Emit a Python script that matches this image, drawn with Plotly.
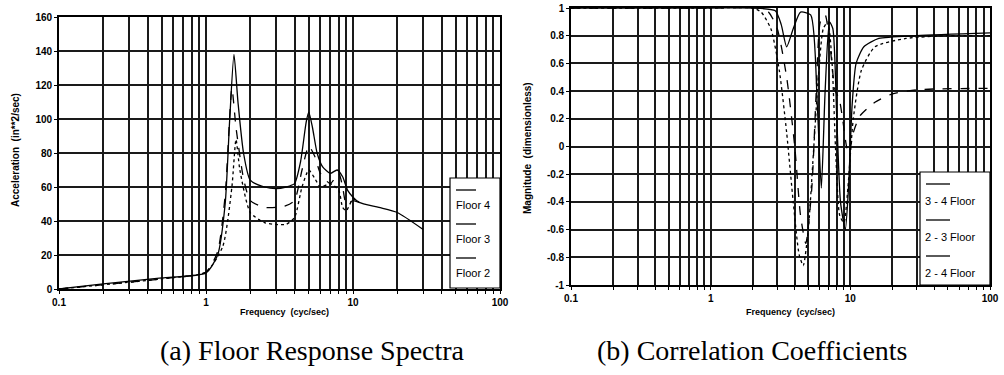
import plotly.graph_objects as go

# ---------------- data ----------------
# (a) Floor response spectra: frequency (cyc/sec) vs acceleration (in**2/sec)
f4 = [0.1, 0.2, 0.5, 1.0, 1.2, 1.35, 1.45, 1.55, 1.65, 1.8, 2.0, 2.5, 3.0, 3.5, 4.0, 4.4, 4.8, 5.0, 5.3, 5.7, 6.2, 7.0, 7.8, 8.5, 9.2, 10, 11, 15, 20, 30]
floor4 = [0, 3, 6.5, 9.5, 20, 50, 100, 138, 110, 80, 64, 60, 59, 60, 62, 75, 98, 104, 95, 80, 72, 68, 70, 66, 58, 54, 51, 48, 45, 35]

f3 = [0.1, 0.5, 1.0, 1.2, 1.35, 1.5, 1.6, 1.8, 2.0, 2.5, 3.0, 3.5, 4.0, 4.5, 5.0, 5.5, 6.0, 7.0, 8.0, 8.5, 9.0, 10, 11]
floor3 = [0, 6, 10, 22, 55, 118, 95, 65, 52, 48, 48, 49, 52, 70, 84, 78, 68, 62, 68, 60, 50, 52, 51]

f2 = [0.1, 0.5, 1.0, 1.3, 1.5, 1.6, 1.7, 2.0, 2.5, 3.0, 3.5, 4.0, 4.5, 5.0, 5.5, 6.0, 7.0, 8.0, 8.5, 9.0, 10, 11]
floor2 = [0, 6, 10, 25, 60, 88, 70, 45, 39, 38, 38, 42, 60, 70, 65, 60, 62, 58, 48, 46, 53, 51]

# (b) Correlation coefficients: frequency (cyc/sec) vs magnitude
fc34 = [0.1, 1.0, 2.0, 2.9, 3.2, 3.5, 3.9, 4.4, 5.2, 5.8, 6.2, 6.6, 7.1, 7.5, 8.0, 8.5, 9.2, 9.7, 10.3, 11, 12.5, 16, 30, 100]
c34 = [1, 1, 1, 0.98, 0.88, 0.72, 0.85, 0.97, 0.95, 0.3, -0.3, 0.4, 0.9, 0.85, 0.2, -0.4, -0.6, -0.3, 0.3, 0.6, 0.72, 0.78, 0.8, 0.82]

fc23 = [0.1, 1.0, 2.2, 2.6, 3.0, 3.5, 4.0, 4.4, 4.8, 5.3, 5.7, 6.1, 6.6, 7.2, 7.8, 8.3, 8.8, 9.4, 9.8, 10.5, 11.7, 15, 20, 30, 100]
c23 = [1, 1, 1, 0.97, 0.85, 0.5, 0.0, -0.5, -0.7, -0.3, 0.4, 0.9, 0.95, 0.7, 0.4, 0.35, 0.2, 0.0, -0.05, 0.1, 0.22, 0.32, 0.38, 0.41, 0.42]

fc24 = [0.1, 1.0, 2.0, 2.3, 2.7, 3.1, 3.5, 3.9, 4.3, 4.6, 5.0, 5.4, 5.9, 6.4, 6.9, 7.4, 7.9, 8.4, 9.0, 9.6, 10.5, 12, 15, 25, 50, 100]
c24 = [1, 1, 1, 0.97, 0.85, 0.55, 0.1, -0.4, -0.78, -0.86, -0.6, -0.1, 0.5, 0.85, 0.9, 0.6, -0.1, -0.5, -0.55, -0.3, 0.2, 0.55, 0.72, 0.78, 0.8, 0.8]

legend_left = ["Floor 4", "Floor 3", "Floor 2"]
legend_right = ["3 - 4 Floor", "2 - 3 Floor", "2 - 4 Floor"]
captions = ["(a) Floor Response Spectra", "(b) Correlation Coefficients"]
yticks_left = [0, 20, 40, 60, 80, 100, 120, 140, 160]
yticks_right = [-1, -0.8, -0.6, -0.4, -0.2, 0, 0.2, 0.4, 0.6, 0.8, 1]
ytext_right = ["-1", "-0.8", "-0.6", "-0.4", "-0.2", "0", "0.2", "0.4", "0.6", "0.8", "1"]

# log grid positions 0.1..100 with labels only at decades
xgrid = []
xgrid_text = []
for dec in [0.1, 1, 10]:
    for m in range(1, 10):
        xgrid.append(round(dec * m, 4))
        xgrid_text.append(("%g" % dec) if m == 1 else "")
xgrid.append(100)
xgrid_text.append("100")

# ---------------- layout helpers (pixels -> paper) ----------------
W, H = 1004, 375
def fx(p):
    return p / W
def fy(p):
    return 1 - p / H

TICKFONT = dict(family="Liberation Sans", size=10, color="black", weight="bold")

fig = go.Figure()
styles = ["solid", "dash", "dot"]
for xs, ys, name, st in [(f4, floor4, "Floor 4", "solid"), (f3, floor3, "Floor 3", "dash"), (f2, floor2, "Floor 2", "dot")]:
    fig.add_trace(go.Scatter(x=xs, y=ys, name=name, mode="lines",
                             line=dict(color="black", width=1.3, dash=st, shape="spline", smoothing=0.6),
                             xaxis="x", yaxis="y", showlegend=False))
for xs, ys, name, st in [(fc34, c34, "3 - 4 Floor", "solid"), (fc23, c23, "2 - 3 Floor", "dash"), (fc24, c24, "2 - 4 Floor", "dot")]:
    fig.add_trace(go.Scatter(x=xs, y=ys, name=name, mode="lines",
                             line=dict(color="black", width=1.3, dash=st, shape="spline", smoothing=0.6),
                             xaxis="x2", yaxis="y2", showlegend=False))

axis_common = dict(showline=True, mirror=True, linecolor="black", linewidth=1.6,
                   showgrid=True, gridcolor="#1a1a1a", gridwidth=1.5, zeroline=False,
                   ticks="outside", ticklen=3, tickcolor="black", tickfont=TICKFONT,
                   automargin=False)

fig.update_layout(
    width=W, height=H,
    margin=dict(l=0, r=0, t=0, b=0),
    paper_bgcolor="white", plot_bgcolor="white",
    showlegend=False,
    xaxis=dict(type="log", range=[-1, 2], domain=[fx(59), fx(500)], anchor="y",
               tickmode="array", tickvals=xgrid, ticktext=xgrid_text, **axis_common),
    yaxis=dict(range=[0, 160], domain=[fy(289), fy(17)], anchor="x",
               tickmode="array", tickvals=yticks_left, **axis_common),
    xaxis2=dict(type="log", range=[-1, 2], domain=[fx(571), fx(990)], anchor="y2",
                tickmode="array", tickvals=xgrid, ticktext=xgrid_text, **axis_common),
    yaxis2=dict(range=[-1, 1], domain=[fy(285), fy(8)], anchor="x2",
                tickmode="array", tickvals=yticks_right, ticktext=ytext_right, **axis_common),
)

ann = []
shapes = []
small = dict(family="Liberation Sans", size=9, color="black", weight="bold")
ysmall = dict(family="Liberation Sans", size=10, color="black", weight="bold")
# axis titles
ann.append(dict(text="Frequency  (cyc/sec)", x=fx(284), y=fy(312), xref="paper", yref="paper",
                xanchor="center", yanchor="middle", showarrow=False, font=small))
ann.append(dict(text="Frequency  (cyc/sec)", x=fx(790), y=fy(312), xref="paper", yref="paper",
                xanchor="center", yanchor="middle", showarrow=False, font=small))
ann.append(dict(text="Acceleration  (in**2/sec)", x=fx(15), y=fy(150), xref="paper", yref="paper",
                xanchor="center", yanchor="middle", showarrow=False, textangle=-90, font=ysmall))
ann.append(dict(text="Magnitude  (dimensionless)", x=fx(527), y=fy(148), xref="paper", yref="paper",
                xanchor="center", yanchor="middle", showarrow=False, textangle=-90, font=ysmall))
# captions
capfont = dict(family="Liberation Serif", size=28, color="black")
ann.append(dict(text=captions[0], x=fx(312), y=fy(350), xref="paper", yref="paper",
                xanchor="center", yanchor="middle", showarrow=False, font=capfont))
ann.append(dict(text=captions[1], x=fx(752), y=fy(350), xref="paper", yref="paper",
                xanchor="center", yanchor="middle", showarrow=False, font=capfont))

# manual legends (sample line above label, as in the reference)
legfont = dict(family="Liberation Sans", size=11, color="black")
shapes.append(dict(type="rect", xref="paper", yref="paper", x0=fx(450), x1=fx(500), y0=fy(288), y1=fy(178),
                   fillcolor="white", line=dict(color="black", width=1.2), layer="above"))
for i, (name, st) in enumerate(zip(legend_left, styles)):
    ly = 190 + 34 * i
    shapes.append(dict(type="line", xref="paper", yref="paper", x0=fx(456), x1=fx(476), y0=fy(ly), y1=fy(ly),
                       line=dict(color="black", width=1.3), layer="above"))
    ann.append(dict(text=name, x=fx(454), y=fy(ly + 15), xref="paper", yref="paper", xanchor="left",
                    yanchor="middle", showarrow=False, font=legfont))

shapes.append(dict(type="rect", xref="paper", yref="paper", x0=fx(920), x1=fx(990), y0=fy(285), y1=fy(172),
                   fillcolor="white", line=dict(color="black", width=1.2), layer="above"))
for i, (name, st) in enumerate(zip(legend_right, styles)):
    ly = 184 + 36 * i
    shapes.append(dict(type="line", xref="paper", yref="paper", x0=fx(926), x1=fx(950), y0=fy(ly), y1=fy(ly),
                       line=dict(color="black", width=1.3), layer="above"))
    ann.append(dict(text=name, x=fx(923), y=fy(ly + 17), xref="paper", yref="paper", xanchor="left",
                    yanchor="middle", showarrow=False, font=legfont))

fig.update_layout(annotations=ann, shapes=shapes)

fig.write_html("out.html", config={"displayModeBar": False},
               post_script="document.body.style.margin='0';document.body.style.overflow='hidden';")
